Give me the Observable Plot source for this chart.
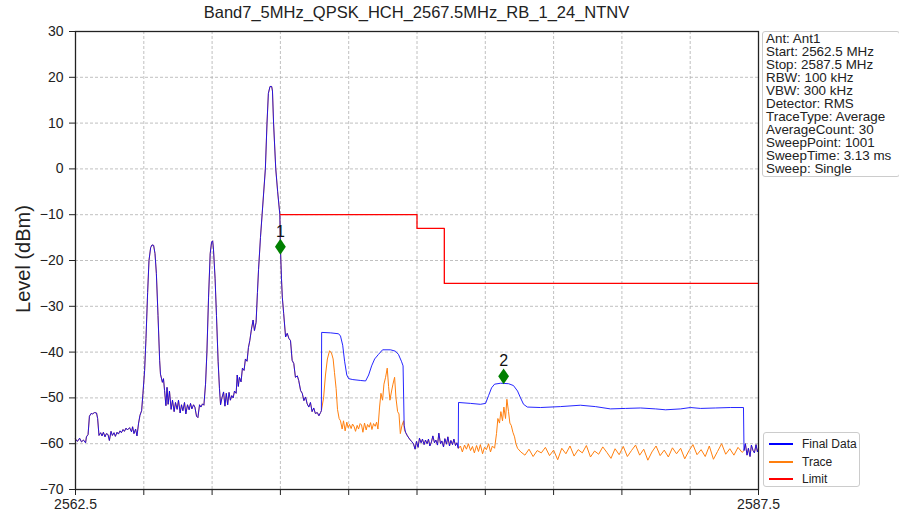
<!DOCTYPE html>
<html>
<head>
<meta charset="utf-8">
<script src="https://cdn.jsdelivr.net/npm/d3@7"></script>
<script src="https://cdn.jsdelivr.net/npm/@observablehq/plot@0.6"></script>
<style>
  html, body { margin: 0; padding: 0; background: #fff; }
  body { font-family: "Liberation Sans", Arial, sans-serif; color: #222; }
  #wrap { position: relative; width: 899px; height: 518px; overflow: hidden; }
  #title { position: absolute; left: 75px; width: 683px; top: 3px; text-align: center; font-size: 16.5px; }
  #ylabel { position: absolute; left: 23px; top: 259px; transform: translate(-50%, -50%) rotate(-90deg); font-size: 20px; white-space: nowrap; }
  #info { position: absolute; left: 762px; top: 31px; width: 133px; padding: 0 0 1px 3px; border: 1px solid #ccc; border-radius: 3px; font-size: 13.4px; line-height: 13px; background: #fff; }
  #legend { position: absolute; left: 763px; top: 432px; width: 95px; height: 53px; border: 1px solid #ccc; border-radius: 3px; font-size: 12px; background: #fff; }
  .lrow { position: absolute; left: 0; height: 16px; display: flex; align-items: center; }
  .lline { width: 24px; height: 0; border-top: 2px solid; margin-left: 5px; margin-right: 9px; }
</style>
</head>
<body>
<div id="wrap">
  <div id="chart"></div>
  <div id="title"></div>
  <div id="ylabel"></div>
  <div id="info"></div>
  <div id="legend"></div>
</div>
<script>
const titleText = "Band7_5MHz_QPSK_HCH_2567.5MHz_RB_1_24_NTNV";
const yLabel = "Level (dBm)";
const infoLines = ["Ant: Ant1", "Start: 2562.5 MHz", "Stop: 2587.5 MHz", "RBW: 100 kHz", "VBW: 300 kHz",
  "Detector: RMS", "TraceType: Average", "AverageCount: 30", "SweepPoint: 1001", "SweepTime: 3.13 ms", "Sweep: Single"];
const seriesNames = ["Final Data", "Trace", "Limit"];
const seriesColors = ["#0000ff", "#ff7f0e", "#ff0000"];
const xDomain = [2562.5, 2587.5];
const yDomain = [-70, 30];
const xTicks = [2562.5, 2565, 2567.5, 2570, 2572.5, 2575, 2577.5, 2580, 2582.5, 2585, 2587.5];
const xTickLabels = ["2562.5", "", "", "", "", "", "", "", "", "", "2587.5"];
const yTicks = [-70, -60, -50, -40, -30, -20, -10, 0, 10, 20, 30];

// Final Data [MHz, dBm]
const finalData = [
[2562.50,-59.0],[2562.57,-59.5],[2562.65,-58.8],[2562.72,-59.6],[2562.79,-59.2],[2562.87,-59.8],[2562.90,-58.5],[2562.96,-58.0],
[2563.01,-54.0],[2563.07,-53.4],[2563.12,-53.5],[2563.20,-53.2],[2563.27,-53.3],[2563.31,-54.5],[2563.36,-58.2],[2563.42,-57.6],
[2563.47,-58.3],[2563.52,-57.5],[2563.58,-58.5],[2563.63,-57.8],[2563.69,-58.0],[2563.74,-59.3],[2563.80,-57.3],[2563.85,-58.2],
[2563.91,-57.6],[2563.96,-58.4],[2564.02,-57.5],[2564.07,-57.9],[2564.13,-57.2],[2564.18,-57.6],[2564.24,-56.9],[2564.29,-57.3],
[2564.35,-56.6],[2564.40,-57.0],[2564.48,-56.5],[2564.55,-57.4],[2564.59,-56.3],[2564.64,-57.8],[2564.70,-56.8],[2564.75,-58.3],
[2564.81,-55.5],[2564.86,-53.8],[2564.92,-52.8],[2564.97,-49.0],[2565.03,-44.0],[2565.08,-37.0],[2565.14,-27.0],[2565.19,-20.0],
[2565.25,-17.2],[2565.30,-16.6],[2565.36,-16.7],[2565.41,-18.5],[2565.46,-22.8],[2565.52,-32.0],[2565.58,-41.8],[2565.61,-44.8],
[2565.68,-46.6],[2565.72,-45.8],[2565.76,-48.4],[2565.81,-51.7],[2565.85,-47.7],[2565.89,-51.4],[2565.94,-48.5],[2566.00,-52.5],
[2566.05,-50.5],[2566.11,-53.0],[2566.16,-51.0],[2566.22,-52.5],[2566.27,-50.5],[2566.33,-53.3],[2566.38,-51.5],[2566.43,-52.8],
[2566.49,-51.0],[2566.54,-53.5],[2566.60,-51.5],[2566.66,-52.6],[2566.71,-51.2],[2566.76,-52.4],[2566.82,-51.5],[2566.87,-52.0],
[2566.93,-54.0],[2566.98,-54.3],[2567.04,-51.5],[2567.09,-52.0],[2567.15,-51.3],[2567.20,-51.6],[2567.26,-47.0],[2567.31,-40.0],
[2567.37,-28.0],[2567.43,-18.5],[2567.48,-16.0],[2567.52,-15.7],[2567.55,-17.5],[2567.61,-24.0],[2567.66,-32.0],[2567.72,-42.0],
[2567.77,-48.0],[2567.81,-51.5],[2567.86,-50.0],[2567.92,-48.7],[2567.97,-51.8],[2568.02,-49.0],[2568.07,-51.5],[2568.12,-48.8],
[2568.17,-50.5],[2568.22,-49.5],[2568.27,-50.0],[2568.32,-48.5],[2568.38,-49.0],[2568.42,-45.0],[2568.46,-47.5],[2568.50,-45.5],
[2568.56,-46.5],[2568.61,-43.5],[2568.67,-44.0],[2568.72,-41.5],[2568.78,-42.0],[2568.83,-39.0],[2568.88,-37.5],[2568.94,-35.0],
[2569.00,-33.0],[2569.05,-35.3],[2569.11,-33.5],[2569.16,-27.0],[2569.20,-22.0],[2569.27,-15.0],[2569.33,-10.0],[2569.45,0.0],
[2569.51,10.0],[2569.56,16.5],[2569.62,18.0],[2569.68,18.0],[2569.71,17.0],[2569.75,10.0],[2569.83,0.0],[2569.90,-5.0],
[2569.98,-10.0],[2570.00,-17.0],[2570.04,-24.0],[2570.07,-28.0],[2570.12,-31.6],[2570.19,-36.7],[2570.25,-35.9],[2570.31,-37.0],
[2570.37,-37.5],[2570.43,-41.8],[2570.49,-42.5],[2570.55,-45.5],[2570.62,-45.2],[2570.67,-46.2],[2570.74,-48.4],[2570.80,-49.0],
[2570.86,-50.6],[2570.92,-49.8],[2570.98,-51.3],[2571.04,-52.0],[2571.10,-51.0],[2571.16,-53.0],[2571.22,-52.2],[2571.28,-53.4],
[2571.35,-53.2],[2571.41,-53.9],[2571.47,-53.2],[2571.50,-52.8],
[2571.51,-35.7],[2571.84,-35.8],[2572.13,-36.0],[2572.20,-36.5],[2572.28,-38.5],[2572.35,-42.0],[2572.43,-45.0],[2572.50,-45.8],
[2572.65,-46.0],[2572.94,-46.2],[2573.12,-46.3],[2573.23,-45.0],[2573.34,-43.0],[2573.45,-41.5],[2573.59,-40.5],[2573.74,-39.5],
[2574.03,-39.5],[2574.21,-39.8],[2574.32,-40.5],[2574.43,-42.0],[2574.49,-43.0],[2574.53,-56.0],
[2574.58,-57.5],[2574.65,-58.3],[2574.73,-59.0],[2574.80,-59.5],[2574.87,-60.0],[2574.93,-61.2],[2574.98,-59.5],[2575.04,-60.8],
[2575.09,-58.8],[2575.15,-59.8],[2575.20,-59.0],[2575.26,-60.2],[2575.31,-59.2],[2575.37,-60.0],[2575.42,-59.0],[2575.47,-60.5],
[2575.53,-59.6],[2575.58,-58.3],[2575.64,-59.8],[2575.69,-59.2],[2575.75,-60.3],[2575.80,-57.7],[2575.86,-60.0],[2575.91,-59.4],
[2575.97,-60.7],[2576.02,-58.9],[2576.08,-60.1],[2576.13,-58.5],[2576.19,-60.5],[2576.24,-59.3],[2576.30,-60.2],[2576.35,-59.0],
[2576.41,-60.4],[2576.46,-59.8],[2576.51,-61.0],
[2576.52,-51.0],[2576.96,-51.2],[2577.32,-51.4],[2577.51,-51.2],[2577.62,-49.5],[2577.73,-47.8],[2577.84,-47.0],[2578.06,-46.8],
[2578.35,-46.9],[2578.53,-47.3],[2578.68,-48.5],[2578.79,-50.0],[2578.90,-51.4],[2579.04,-52.0],[2579.52,-52.1],[2580.25,-51.9],
[2580.98,-51.6],[2581.53,-51.9],[2582.08,-52.4],[2582.63,-52.3],[2583.18,-52.2],[2583.73,-52.4],[2584.10,-52.6],[2584.65,-52.4],
[2585.01,-52.1],[2585.38,-52.3],[2585.93,-52.2],[2586.47,-52.1],[2586.95,-52.1],
[2586.97,-61.5],[2587.02,-60.0],[2587.08,-62.5],[2587.13,-61.0],[2587.19,-62.8],[2587.24,-60.3],[2587.30,-61.5],[2587.35,-62.0],
[2587.41,-60.2],[2587.46,-61.8],[2587.50,-61.0]
];

// Trace [MHz, dBm] where it differs from Final Data
const traceSegment1 = [
[2571.50,-52.8],[2571.58,-50.0],[2571.65,-45.0],[2571.72,-41.5],[2571.80,-39.7],[2571.87,-40.2],[2571.93,-41.5],[2571.98,-44.5],
[2572.04,-48.0],[2572.09,-52.5],[2572.15,-54.5],[2572.20,-55.0],[2572.26,-56.8],[2572.31,-55.0],[2572.37,-57.2],[2572.43,-55.3],
[2572.48,-56.5],[2572.53,-55.8],[2572.59,-56.7],[2572.64,-55.7],[2572.70,-56.3],[2572.75,-57.3],[2572.81,-56.0],[2572.86,-56.8],
[2572.92,-55.6],[2572.97,-55.9],[2573.02,-57.5],[2573.08,-55.5],[2573.14,-57.0],[2573.19,-55.8],[2573.25,-56.4],[2573.30,-55.4],
[2573.35,-56.9],[2573.41,-55.6],[2573.47,-56.2],[2573.52,-55.3],[2573.57,-56.8],[2573.63,-52.0],[2573.68,-49.0],[2573.74,-50.5],
[2573.79,-47.0],[2573.85,-45.5],[2573.91,-43.5],[2573.96,-47.5],[2574.01,-50.5],[2574.07,-48.5],[2574.12,-47.0],[2574.18,-45.5],
[2574.23,-50.0],[2574.29,-53.0],[2574.34,-53.5],[2574.39,-57.8],[2574.45,-56.0],[2574.51,-55.0],[2574.54,-57.0]
];
const traceSegment2 = [
[2576.52,-61.0],[2576.59,-60.5],[2576.66,-61.8],[2576.74,-60.3],[2576.81,-61.2],[2576.88,-60.0],[2576.96,-61.5],[2577.03,-60.6],
[2577.10,-62.0],[2577.18,-60.4],[2577.25,-61.7],[2577.32,-60.2],[2577.40,-62.2],[2577.47,-60.8],[2577.54,-61.3],[2577.62,-60.0],
[2577.69,-61.8],[2577.76,-60.5],[2577.84,-61.0],[2577.91,-57.8],[2577.96,-54.5],[2578.02,-55.5],[2578.07,-53.0],[2578.13,-55.0],
[2578.18,-52.0],[2578.24,-54.5],[2578.29,-50.3],[2578.35,-53.0],[2578.40,-55.5],[2578.45,-56.0],[2578.51,-57.5],[2578.57,-58.5],
[2578.62,-60.0],[2578.68,-61.0],[2578.80,-61.8],[2578.95,-62.5],[2579.10,-61.2],[2579.25,-62.8],[2579.40,-61.5],[2579.55,-62.0],
[2579.70,-60.8],[2579.85,-62.6],[2580.00,-61.4],[2580.15,-63.5],[2580.30,-61.0],[2580.45,-62.2],[2580.60,-60.5],[2580.75,-62.7],
[2580.90,-61.3],[2581.05,-62.0],[2581.20,-60.4],[2581.35,-62.9],[2581.50,-61.6],[2581.65,-62.3],[2581.80,-60.7],[2581.95,-61.9],
[2582.10,-63.2],[2582.25,-61.1],[2582.40,-62.4],[2582.55,-60.6],[2582.70,-62.8],[2582.85,-61.5],[2583.00,-60.3],[2583.15,-62.5],
[2583.30,-61.2],[2583.45,-63.6],[2583.60,-61.8],[2583.75,-60.5],[2583.90,-62.6],[2584.05,-61.4],[2584.20,-62.9],[2584.35,-60.9],
[2584.50,-62.2],[2584.65,-61.0],[2584.80,-63.3],[2584.95,-61.6],[2585.10,-60.2],[2585.25,-62.4],[2585.40,-61.3],[2585.55,-62.8],
[2585.70,-60.5],[2585.85,-63.4],[2586.00,-61.7],[2586.15,-60.0],[2586.30,-62.3],[2586.45,-61.1],[2586.60,-62.5],[2586.75,-60.8],
[2586.90,-61.9],[2586.97,-61.5]
];

const limitFreq = [2570.0, 2575.0, 2575.0, 2576.0, 2576.0, 2587.5];
const limitLevel = [-10, -10, -13, -13, -25, -25];

const markerFreq = [2570.0, 2578.17];
const markerLevel = [-17.0, -45.3];
const markerLabel = ["1", "2"];

// Full trace: same as Final Data outside the two segments
const seg1 = [traceSegment1[0][0], traceSegment1[traceSegment1.length - 1][0]];
const seg2 = [traceSegment2[0][0], traceSegment2[traceSegment2.length - 1][0]];
const inSeg = f => (f >= seg1[0] - 1e-9 && f <= seg1[1] + 1e-9) || (f >= seg2[0] - 1e-9 && f <= seg2[1] + 1e-9);
const traceData = finalData.filter(d => !inSeg(d[0]) && !(d[0] > seg1[1] && d[0] < 2574.58) && !(d[0] > 2586.95 && d[0] < seg2[1]))
  .concat(traceSegment1, traceSegment2)
  .sort((a, b) => a[0] - b[0]);

const limitData = limitFreq.map((f, i) => ({f, v: limitLevel[i]}));
const markers = markerFreq.map((f, i) => ({f, v: markerLevel[i], label: markerLabel[i]}));

// tall thin diamond symbol
const thinDiamond = {
  draw(context, size) {
    const h = Math.sqrt(size) * 0.75, w = h * 0.68;
    context.moveTo(0, -h); context.lineTo(w, 0); context.lineTo(0, h); context.lineTo(-w, 0); context.closePath();
  }
};

const chart = Plot.plot({
  width: 899, height: 518,
  marginLeft: 75, marginRight: 141, marginTop: 31, marginBottom: 29,
  style: { fontFamily: '"Liberation Sans", Arial, sans-serif', fontSize: "14px", color: "#222", background: "transparent" },
  x: { domain: xDomain },
  y: { domain: yDomain },
  marks: [
    Plot.gridX(xTicks, { stroke: "#b0b0b0", strokeOpacity: 1, strokeDasharray: "3,2", strokeWidth: 0.8 }),
    Plot.gridY(yTicks, { stroke: "#b0b0b0", strokeOpacity: 1, strokeDasharray: "3,2", strokeWidth: 0.8 }),
    Plot.line(traceData, { x: d => d[0], y: d => d[1], stroke: seriesColors[1], strokeWidth: 1 }),
    Plot.line(finalData, { x: d => d[0], y: d => d[1], stroke: seriesColors[0], strokeWidth: 1, strokeOpacity: 0.85 }),
    Plot.line(limitData, { x: "f", y: "v", stroke: seriesColors[2], strokeWidth: 1.3 }),
    Plot.dot(markers, { x: "f", y: "v", symbol: thinDiamond, r: 6, fill: "#008000", stroke: "none" }),
    Plot.text(markers, { x: "f", y: "v", text: "label", dy: -15, fontSize: 16, fill: "#111" }),
    Plot.axisX(xTicks, { tickSize: 6, tickPadding: 4, tickFormat: (d, i) => xTickLabels[i], fontSize: 14, label: null, stroke: "#222" }),
    Plot.axisY(yTicks, { tickSize: 6, tickPadding: 6, fontSize: 14, label: null, stroke: "#222" }),
    Plot.frame({ stroke: "#222", strokeWidth: 1.3 })
  ]
});
document.getElementById("chart").appendChild(chart);

document.getElementById("title").textContent = titleText;
document.getElementById("ylabel").textContent = yLabel;
document.getElementById("info").innerHTML = infoLines.map(s => `<div>${s}</div>`).join("");
const legend = document.getElementById("legend");
seriesNames.forEach((n, i) => {
  const row = document.createElement("div");
  row.className = "lrow";
  row.style.top = (3 + i * 17.5) + "px";
  row.innerHTML = `<span class="lline" style="border-color:${seriesColors[i]}"></span><span>${n}</span>`;
  legend.appendChild(row);
});
</script>
</body>
</html>
